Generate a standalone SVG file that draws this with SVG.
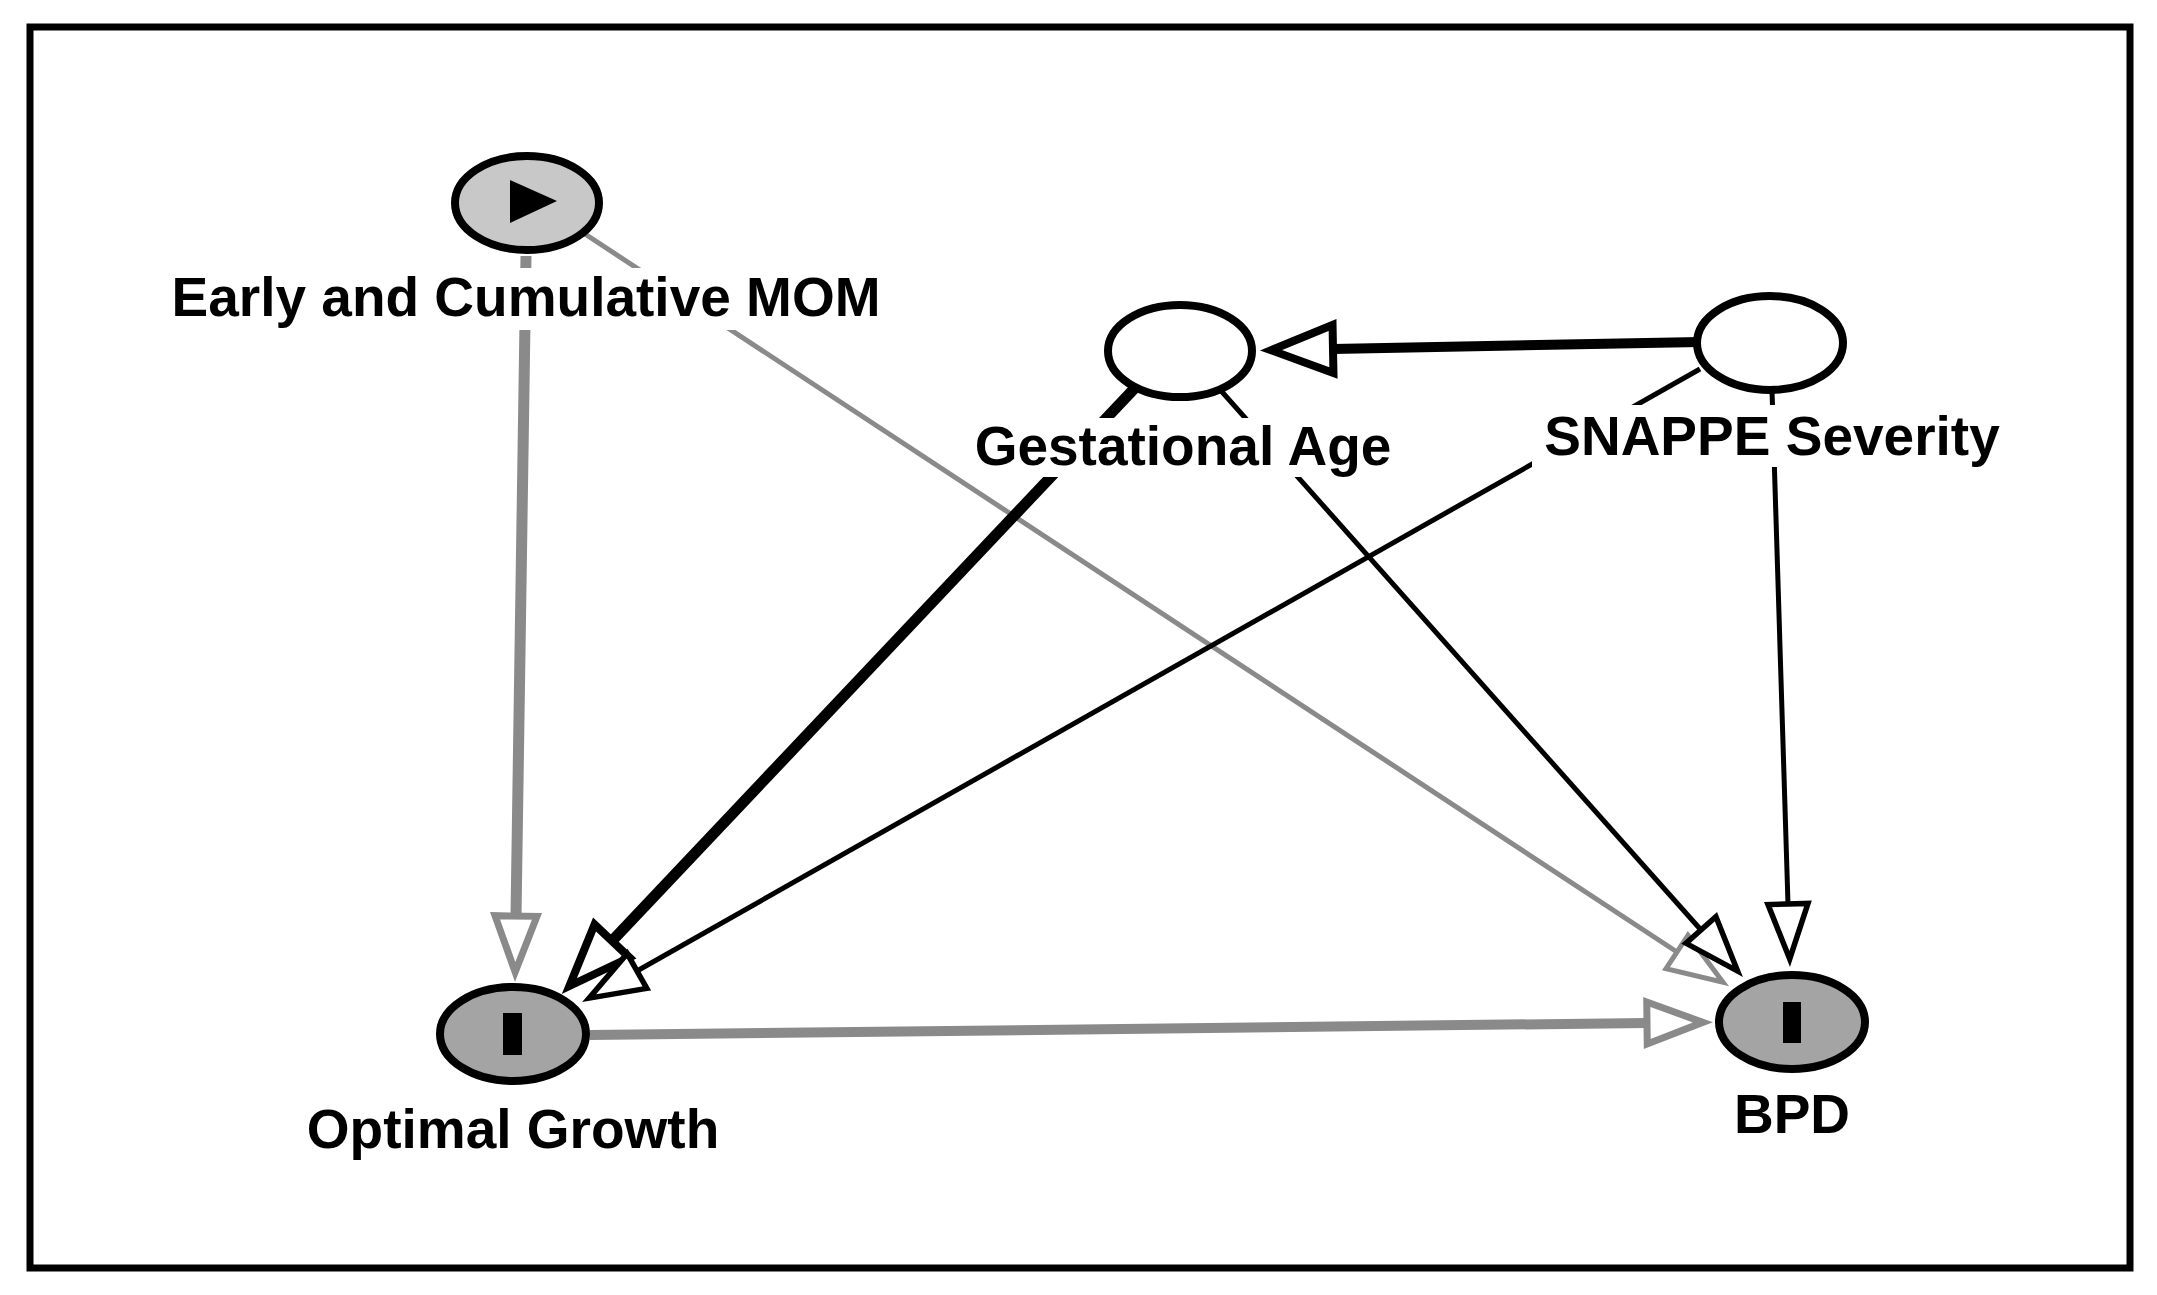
<svg xmlns="http://www.w3.org/2000/svg" width="2157" height="1295" viewBox="0 0 2157 1295">
<style>
.lbl{font-family:"Liberation Sans",Arial,sans-serif;font-weight:bold;font-size:55px;fill:#000;text-anchor:middle}
.bg{fill:#fff}
.node{stroke:#000;stroke-width:8}
.c{fill:none;stroke-linecap:butt}
.blk{stroke:#000}
.gry{stroke:#8a8a8a}
</style>
<defs>
<marker id="mGrayThick" markerUnits="userSpaceOnUse" orient="auto" refX="0" refY="0" markerWidth="80" markerHeight="60" overflow="visible">
<path d="M0,-21 L56,0 L0,21 Z" fill="#fff" stroke="#8a8a8a" stroke-width="7" stroke-linejoin="miter"/>
</marker>
<marker id="mGrayThin" markerUnits="userSpaceOnUse" orient="auto" refX="0" refY="0" markerWidth="80" markerHeight="60" overflow="visible">
<path d="M0,-20 L55,0 L0,20 Z" fill="#fff" stroke="#8a8a8a" stroke-width="5" stroke-linejoin="miter"/>
</marker>
<marker id="mBlackThick" markerUnits="userSpaceOnUse" orient="auto" refX="0" refY="0" markerWidth="80" markerHeight="60" overflow="visible">
<path d="M0,-24 L62,0 L0,24 Z" fill="#fff" stroke="#000" stroke-width="8" stroke-linejoin="miter"/>
</marker>
<marker id="mBlackThin" markerUnits="userSpaceOnUse" orient="auto" refX="0" refY="0" markerWidth="80" markerHeight="60" overflow="visible">
<path d="M0,-20 L55,0 L0,20 Z" fill="#fff" stroke="#000" stroke-width="5.5" stroke-linejoin="miter"/>
</marker>
</defs>
<rect x="0" y="0" width="2157" height="1295" fill="#fff"/>
<rect x="30" y="27" width="2100" height="1241" fill="none" stroke="#000" stroke-width="7"/>
<g id="connectors">
<path class="c gry" stroke-width="11" d="M526,256 L516,916" marker-end="url(#mGrayThick)"/>
<path class="c gry" stroke-width="5" d="M585,234 L1677,952" marker-end="url(#mGrayThin)"/>
<path class="c blk" stroke-width="11" d="M1150,372 L612,941" marker-end="url(#mBlackThick)"/>
<path class="c blk" stroke-width="5" d="M1215,384 L1701,930" marker-end="url(#mBlackThin)"/>
<path class="c blk" stroke-width="10" d="M1700,342 L1333,349" marker-end="url(#mBlackThick)"/>
<path class="c blk" stroke-width="5" d="M1700,369 L637,971" marker-end="url(#mBlackThin)"/>
<path class="c blk" stroke-width="5" d="M1772,390 L1788,904" marker-end="url(#mBlackThin)"/>
<path class="c gry" stroke-width="10" d="M590,1035 L1647,1023" marker-end="url(#mGrayThick)"/>
</g>
<g id="node-mom">
<ellipse class="node" cx="527" cy="203" rx="72" ry="47" fill="#c8c8c8"/>
<polygon points="510,180 510,223 557,201" fill="#000"/>
<rect class="bg" x="165" y="268" width="723" height="62"/>
<text class="lbl" x="526" y="316">Early and Cumulative MOM</text>
</g>
<g id="node-ga">
<ellipse class="node" cx="1180" cy="351" rx="72" ry="46" fill="#fff"/>
<rect class="bg" x="970" y="418" width="425" height="59"/>
<text class="lbl" x="1183" y="465">Gestational Age</text>
</g>
<g id="node-snappe">
<ellipse class="node" cx="1770" cy="343" rx="73" ry="47" fill="#fff"/>
<rect class="bg" x="1532" y="405" width="478" height="62"/>
<text class="lbl" x="1772" y="455">SNAPPE Severity</text>
</g>
<g id="node-og">
<ellipse class="node" cx="513" cy="1034" rx="73" ry="47" fill="#a4a4a4"/>
<rect x="503" y="1013" width="19" height="42" fill="#000"/>
<text class="lbl" x="513" y="1148">Optimal Growth</text>
</g>
<g id="node-bpd">
<ellipse class="node" cx="1792" cy="1022" rx="73" ry="47" fill="#a4a4a4"/>
<rect x="1783" y="1002" width="18" height="41" fill="#000"/>
<text class="lbl" x="1792" y="1133">BPD</text>
</g>
</svg>
